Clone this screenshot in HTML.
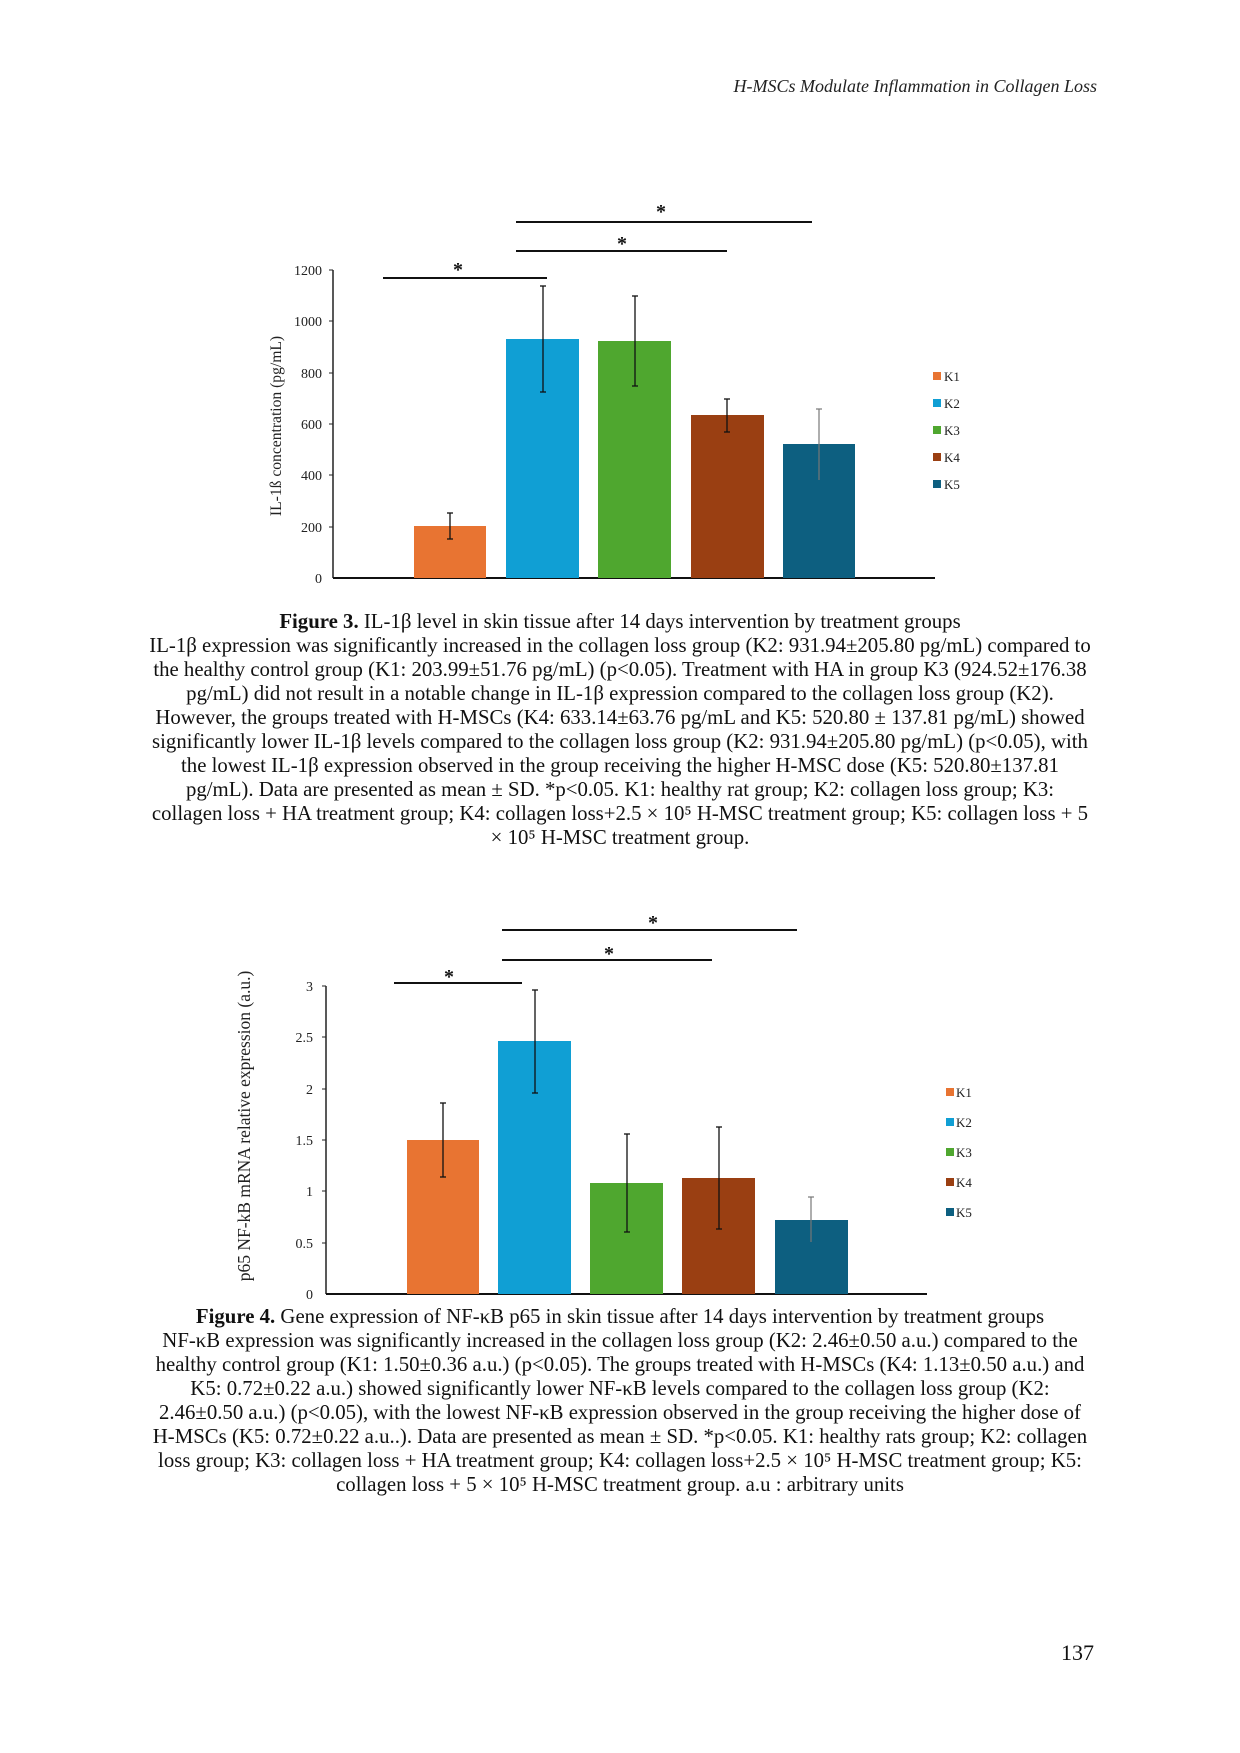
<!DOCTYPE html>
<html><head><meta charset="utf-8"><style>
html,body{margin:0;padding:0;background:#fff}
svg{display:block}
.c{font-family:"Liberation Serif",serif;font-size:20.8px;fill:#111}
.t{font-family:"Liberation Serif",serif;font-size:14px;fill:#222}
.l{font-family:"Liberation Serif",serif;font-size:13px;fill:#222}
</style></head><body>
<svg width="1240" height="1753" viewBox="0 0 1240 1753" xmlns="http://www.w3.org/2000/svg">
<text x="1097" y="92" text-anchor="end" font-family="Liberation Serif,serif" font-style="italic" font-size="18" fill="#222">H-MSCs Modulate Inflammation in Collagen Loss</text>

<!-- Chart 1 -->
<g>
<line x1="333" y1="270" x2="333" y2="578" stroke="#222" stroke-width="1.5"/>
<line x1="333" y1="578" x2="935" y2="578" stroke="#111" stroke-width="2"/>
<g class="t" text-anchor="end">
<text x="322" y="583">0</text><text x="322" y="532">200</text><text x="322" y="480">400</text>
<text x="322" y="429">600</text><text x="322" y="378">800</text><text x="322" y="326">1000</text><text x="322" y="275">1200</text>
</g>
<g stroke="#222" stroke-width="1">
<line x1="329" y1="270" x2="333" y2="270"/><line x1="329" y1="321" x2="333" y2="321"/><line x1="329" y1="373" x2="333" y2="373"/>
<line x1="329" y1="424" x2="333" y2="424"/><line x1="329" y1="475" x2="333" y2="475"/><line x1="329" y1="527" x2="333" y2="527"/>
</g>
<text transform="translate(281,426) rotate(-90)" text-anchor="middle" font-family="Liberation Serif,serif" font-size="15.6" fill="#222">IL-1ß concentration (pg/mL)</text>
<rect x="414" y="526" width="72" height="52" fill="#E87432"/>
<rect x="506" y="339" width="73" height="239" fill="#109FD4"/>
<rect x="598" y="341" width="73" height="237" fill="#4FA72F"/>
<rect x="691" y="415" width="73" height="163" fill="#9A3F12"/>
<rect x="783" y="444" width="72" height="134" fill="#0D5F80"/>
<g stroke="#111" stroke-width="1.3">
<line x1="450" y1="513" x2="450" y2="539"/><line x1="447" y1="513" x2="453" y2="513"/><line x1="447" y1="539" x2="453" y2="539"/>
<line x1="543" y1="286" x2="543" y2="392"/><line x1="540" y1="286" x2="546" y2="286"/><line x1="540" y1="392" x2="546" y2="392"/>
<line x1="635" y1="296" x2="635" y2="386"/><line x1="632" y1="296" x2="638" y2="296"/><line x1="632" y1="386" x2="638" y2="386"/>
<line x1="727" y1="399" x2="727" y2="432"/><line x1="724" y1="399" x2="730" y2="399"/><line x1="724" y1="432" x2="730" y2="432"/>
</g>
<g stroke="#777" stroke-width="1.2"><line x1="819" y1="409" x2="819" y2="480"/><line x1="816" y1="409" x2="822" y2="409"/></g>
<g stroke="#111" stroke-width="2">
<line x1="383" y1="278" x2="547" y2="278"/><line x1="516" y1="251" x2="727" y2="251"/><line x1="516" y1="222" x2="812" y2="222"/>
</g>
<g font-family="Liberation Serif,serif" font-size="20" font-weight="bold" text-anchor="middle" fill="#111">
<text x="458" y="276">*</text><text x="622" y="250">*</text><text x="661" y="218">*</text>
</g>
<g class="l">
<rect x="933" y="372" width="8" height="8" fill="#E87432"/><text x="944" y="381">K1</text>
<rect x="933" y="399" width="8" height="8" fill="#109FD4"/><text x="944" y="408">K2</text>
<rect x="933" y="426" width="8" height="8" fill="#4FA72F"/><text x="944" y="435">K3</text>
<rect x="933" y="453" width="8" height="8" fill="#9A3F12"/><text x="944" y="462">K4</text>
<rect x="933" y="480" width="8" height="8" fill="#0D5F80"/><text x="944" y="489">K5</text>
</g>
</g>

<g class="c" text-anchor="middle">
<text x="620" y="628"><tspan font-weight="bold">Figure 3.</tspan> IL-1β level in skin tissue after 14 days intervention by treatment groups</text>
<text x="620" y="652">IL-1β expression was significantly increased in the collagen loss group (K2: 931.94±205.80 pg/mL) compared to</text>
<text x="620" y="676">the healthy control group (K1: 203.99±51.76 pg/mL) (p&lt;0.05). Treatment with HA in group K3 (924.52±176.38</text>
<text x="620" y="700">pg/mL) did not result in a notable change in IL-1β expression compared to the collagen loss group (K2).</text>
<text x="620" y="724">However, the groups treated with H-MSCs (K4: 633.14±63.76 pg/mL and K5: 520.80 ± 137.81 pg/mL) showed</text>
<text x="620" y="748">significantly lower IL-1β levels compared to the collagen loss group (K2: 931.94±205.80 pg/mL) (p&lt;0.05), with</text>
<text x="620" y="772">the lowest IL-1β expression observed in the group receiving the higher H-MSC dose (K5: 520.80±137.81</text>
<text x="620" y="796">pg/mL). Data are presented as mean ± SD. *p&lt;0.05. K1: healthy rat group; K2: collagen loss group; K3:</text>
<text x="620" y="820">collagen loss + HA treatment group; K4: collagen loss+2.5 × 10⁵ H-MSC treatment group; K5: collagen loss + 5</text>
<text x="620" y="844">× 10⁵ H-MSC treatment group.</text>
</g>

<!-- Chart 2 -->
<g>
<line x1="326" y1="986" x2="326" y2="1294" stroke="#222" stroke-width="1.5"/>
<line x1="326" y1="1294" x2="927" y2="1294" stroke="#111" stroke-width="2"/>
<g class="t" text-anchor="end">
<text x="313" y="1299">0</text><text x="313" y="1248">0.5</text><text x="313" y="1196">1</text>
<text x="313" y="1145">1.5</text><text x="313" y="1094">2</text><text x="313" y="1042">2.5</text><text x="313" y="991">3</text>
</g>
<g stroke="#222" stroke-width="1">
<line x1="322" y1="986" x2="326" y2="986"/><line x1="322" y1="1037" x2="326" y2="1037"/><line x1="322" y1="1089" x2="326" y2="1089"/>
<line x1="322" y1="1140" x2="326" y2="1140"/><line x1="322" y1="1191" x2="326" y2="1191"/><line x1="322" y1="1243" x2="326" y2="1243"/>
</g>
<text transform="translate(250,1126) rotate(-90)" text-anchor="middle" font-family="Liberation Serif,serif" font-size="17.5" fill="#222">p65 NF-kB mRNA relative expression (a.u.)</text>
<rect x="407" y="1140" width="72" height="154" fill="#E87432"/>
<rect x="498" y="1041" width="73" height="253" fill="#109FD4"/>
<rect x="590" y="1183" width="73" height="111" fill="#4FA72F"/>
<rect x="682" y="1178" width="73" height="116" fill="#9A3F12"/>
<rect x="775" y="1220" width="73" height="74" fill="#0D5F80"/>
<g stroke="#111" stroke-width="1.3">
<line x1="443" y1="1103" x2="443" y2="1177"/><line x1="440" y1="1103" x2="446" y2="1103"/><line x1="440" y1="1177" x2="446" y2="1177"/>
<line x1="535" y1="990" x2="535" y2="1093"/><line x1="532" y1="990" x2="538" y2="990"/><line x1="532" y1="1093" x2="538" y2="1093"/>
<line x1="627" y1="1134" x2="627" y2="1232"/><line x1="624" y1="1134" x2="630" y2="1134"/><line x1="624" y1="1232" x2="630" y2="1232"/>
<line x1="719" y1="1127" x2="719" y2="1229"/><line x1="716" y1="1127" x2="722" y2="1127"/><line x1="716" y1="1229" x2="722" y2="1229"/>
</g>
<g stroke="#777" stroke-width="1.2"><line x1="811" y1="1197" x2="811" y2="1242"/><line x1="808" y1="1197" x2="814" y2="1197"/></g>
<g stroke="#111" stroke-width="2">
<line x1="394" y1="983" x2="522" y2="983"/><line x1="502" y1="960" x2="712" y2="960"/><line x1="502" y1="930" x2="797" y2="930"/>
</g>
<g font-family="Liberation Serif,serif" font-size="20" font-weight="bold" text-anchor="middle" fill="#111">
<text x="449" y="983">*</text><text x="609" y="960">*</text><text x="653" y="929">*</text>
</g>
<g class="l">
<rect x="946" y="1088" width="8" height="8" fill="#E87432"/><text x="956" y="1097">K1</text>
<rect x="946" y="1118" width="8" height="8" fill="#109FD4"/><text x="956" y="1127">K2</text>
<rect x="946" y="1148" width="8" height="8" fill="#4FA72F"/><text x="956" y="1157">K3</text>
<rect x="946" y="1178" width="8" height="8" fill="#9A3F12"/><text x="956" y="1187">K4</text>
<rect x="946" y="1208" width="8" height="8" fill="#0D5F80"/><text x="956" y="1217">K5</text>
</g>
</g>

<g class="c" text-anchor="middle">
<text x="620" y="1323"><tspan font-weight="bold">Figure 4.</tspan> Gene expression of NF-κB p65 in skin tissue after 14 days intervention by  treatment groups</text>
<text x="620" y="1347">NF-κB expression was significantly increased in the collagen loss group (K2: 2.46±0.50 a.u.) compared to the</text>
<text x="620" y="1371">healthy control group (K1: 1.50±0.36 a.u.) (p&lt;0.05). The groups treated with H-MSCs (K4: 1.13±0.50 a.u.) and</text>
<text x="620" y="1395">K5: 0.72±0.22 a.u.) showed significantly lower NF-κB levels compared to the collagen loss group (K2:</text>
<text x="620" y="1419">2.46±0.50 a.u.) (p&lt;0.05), with the lowest NF-κB expression observed in the group receiving the higher dose of</text>
<text x="620" y="1443">H-MSCs (K5: 0.72±0.22 a.u..). Data are presented as mean ± SD. *p&lt;0.05. K1: healthy rats group; K2: collagen</text>
<text x="620" y="1467">loss group; K3: collagen loss + HA treatment group; K4: collagen loss+2.5 × 10⁵ H-MSC treatment group; K5:</text>
<text x="620" y="1491">collagen loss + 5 × 10⁵ H-MSC treatment group.  a.u : arbitrary units</text>
</g>

<text x="1094" y="1660" text-anchor="end" font-family="Liberation Serif,serif" font-size="22" fill="#111">137</text>
</svg>
</body></html>
